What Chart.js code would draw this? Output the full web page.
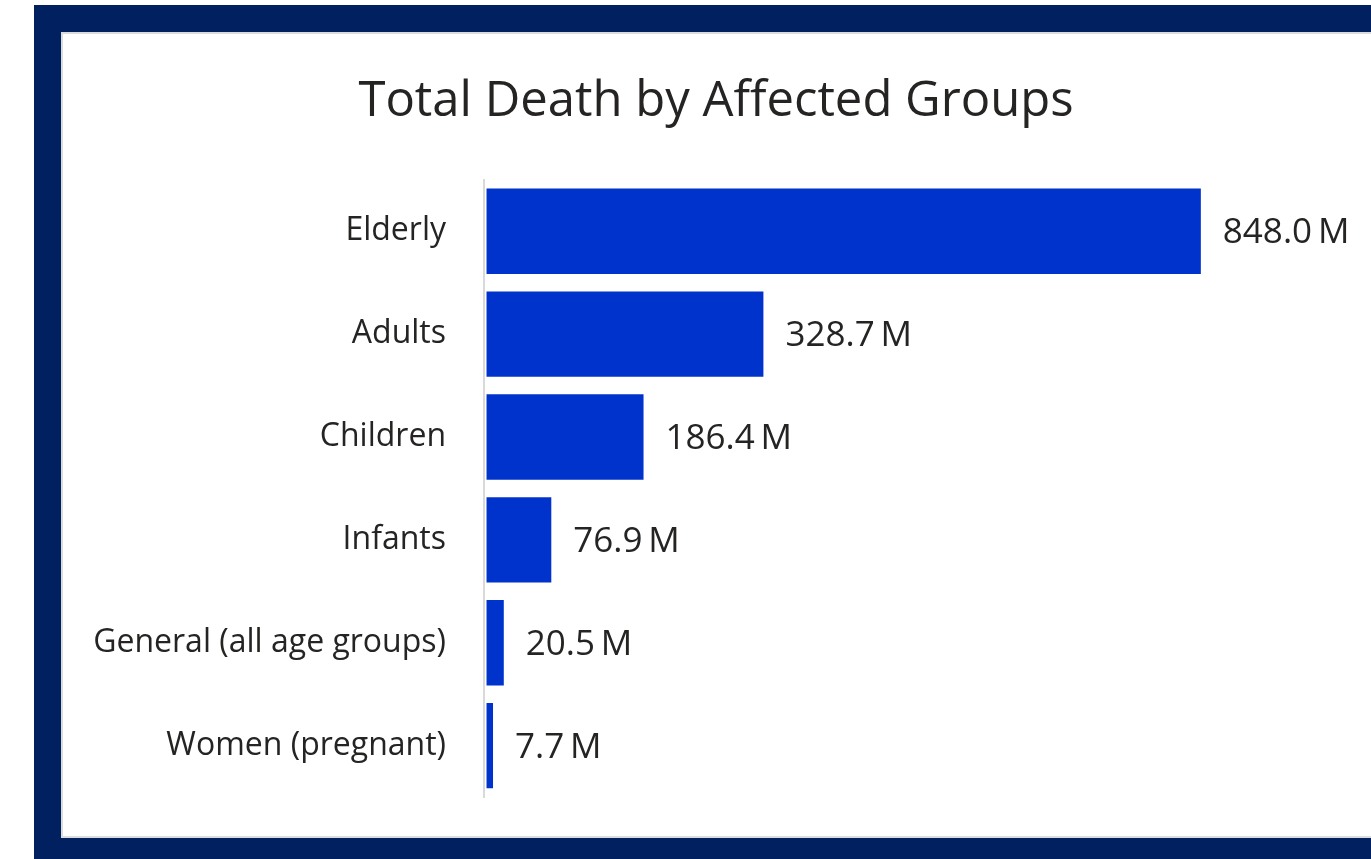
<!DOCTYPE html>
<html>
<head>
<meta charset="utf-8">
<script src="https://cdn.jsdelivr.net/npm/chart.js@4"></script>
<style>
  html, body { margin: 0; padding: 0; background: #fff; }
  body { width: 1371px; height: 859px; position: relative; overflow: hidden; }
  #frame { position: absolute; left: 34px; top: 5px; width: 1337px; height: 854px; background: #002060; }
  #panel { position: absolute; left: 61px; top: 32px; width: 1310px; height: 806px; background: #fff;
           box-sizing: border-box; border: 2px solid #dcdcdc; border-right: none; }
  #chartBox { position: absolute; left: 61px; top: 32px; width: 1310px; height: 806px; }
</style>
</head>
<body>
<div id="frame"></div>
<div id="panel"></div>
<div id="chartBox"><canvas id="deathChart"></canvas></div>
<script>
// Chart data
const groups = ['Elderly', 'Adults', 'Children', 'Infants', 'General (all age groups)', 'Women (pregnant)'];
const deaths = [848.0, 328.7, 186.4, 76.9, 20.5, 7.7]; // millions
const unit = '\u2009M';

const textColor = '#252423';
const barColor = '#0033cc';

// Draw value labels just past the end of each bar
const valueLabels = {
  id: 'valueLabels',
  afterDatasetsDraw(chart) {
    const { ctx } = chart;
    const meta = chart.getDatasetMeta(0);
    ctx.save();
    ctx.font = '35px "Open Sans"';
    ctx.fillStyle = textColor;
    ctx.textAlign = 'left';
    ctx.textBaseline = 'middle';
    meta.data.forEach((bar, i) => {
      ctx.fillText(deaths[i].toFixed(1) + unit, bar.x + 22, bar.y + 2);
    });
    ctx.restore();
  }
};

const ctx = document.getElementById('deathChart').getContext('2d');
new Chart(ctx, {
  type: 'bar',
  data: {
    labels: groups,
    datasets: [{
      label: 'Total Death',
      data: deaths,
      backgroundColor: barColor,
      categoryPercentage: 1,
      barPercentage: 0.83
    }]
  },
  options: {
    indexAxis: 'y',
    responsive: true,
    maintainAspectRatio: false,
    animation: false,
    layout: { padding: { left: 0, right: 0, top: 0, bottom: 41 } },
    plugins: {
      legend: { display: false },
      tooltip: { enabled: false },
      title: {
        display: true,
        text: 'Total Death by Affected Groups',
        color: textColor,
        font: { family: 'Open Sans', size: 49, weight: 'normal' },
        padding: { top: 41, bottom: 48 }
      }
    },
    scales: {
      x: { display: false, min: -3, max: 1050 },
      y: {
        afterFit: s => {
          s.width = 423;
          // keep the tick padding from eating into the plot height
          s.paddingTop = 0;
          s.paddingBottom = 0;
        },
        grid: { display: false, drawTicks: false },
        border: { display: true, color: '#d9d9d9', width: 2 },
        ticks: {
          color: textColor,
          padding: 38,
          font: { family: 'Open Sans', size: 32 }
        }
      }
    }
  },
  plugins: [valueLabels]
});
</script>
</body>
</html>
